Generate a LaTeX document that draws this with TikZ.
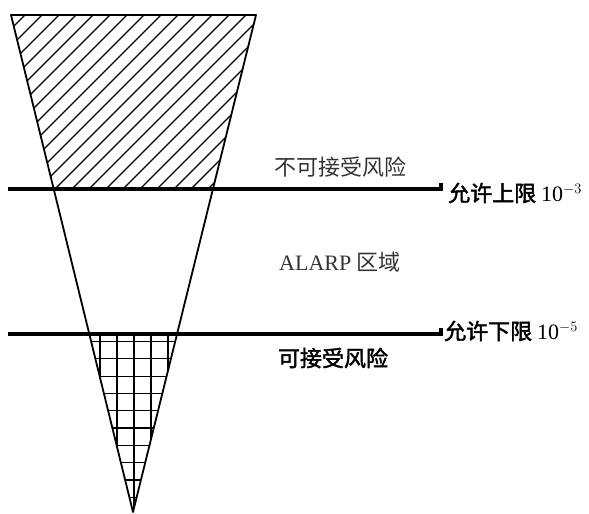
\documentclass[tikz,border=0pt]{standalone}
\usepackage{fontspec}
\setmainfont{Liberation Serif}
\newfontfamily\cjk{Noto Sans CJK SC}[AutoFakeBold=2]
\usetikzlibrary{positioning}
\tikzset{
  rkal/.style={x=1pt, y=-1pt},
  r edge/.style={line width=1.8pt},
  r bar/.style={line width=3.4pt},
  r hatch/.style={line width=1.2pt},
  r lab/.style={font=\fontsize{22}{24}\selectfont\cjk, text=black!80, inner sep=0pt},
  r best/.style={font=\fontsize{22}{24}\selectfont\cjk\bfseries, inner sep=0pt},
  r lim/.style={r best, anchor=west},
}
\begin{document}
\begin{tikzpicture}[rkal]
\useasboundingbox (0,0) rectangle (589,514);
% ---- funnel ----
\coordinate (tl) at (11,15); \coordinate (tr) at (256,15); \coordinate (ap) at (133,512);
\coordinate (u0) at (8,189); \coordinate (u1) at (441,189);
\coordinate (d0) at (8,334); \coordinate (d1) at (441,334);
% ---- hatched part (not acceptable) ----
\begin{scope}
  \clip (tl)--(tr)--(ap)--cycle; \clip (0,15) rectangle (589,189);
  \foreach \c in {-166,-149,...,270} \draw[r hatch] (\c,189)--++(190,-190);
\end{scope}
% ---- grid part (acceptable) ----
\begin{scope}
  \clip (tl)--(tr)--(ap)--cycle; \clip (0,334) rectangle (589,514);
  \foreach \x in {100,117,...,168} \draw[r hatch] (\x,334)--(\x,514);
  \foreach \k in {0,...,9} \draw[r hatch] (0,341.5+17.3*\k)--(589,341.5+17.3*\k);
\end{scope}
\draw[r edge, line join=round] (tl)--(tr)--(ap)--cycle;
% ---- limits ----
\draw[r bar] (u0)--(u1)--++(0,-6);
\draw[r bar] (d0)--(d1)--++(0,-6);
\node[r lab] (nacc) at (340,167) {不可接受风险};
\node[r lab, font=\fontsize{22}{24}\selectfont] (alarp) at (340,262) {ALARP {\cjk 区域}};
\node[r best] (acc) at (333,358) {可接受风险};
\node[r lim] (ulim) at (448,193) {允许上限 {\mdseries\rmfamily 10$^{-3}$}};
\node[r lim] (dlim) at (444,331) {允许下限 {\mdseries\rmfamily 10$^{-5}$}};
\end{tikzpicture}
\end{document}
